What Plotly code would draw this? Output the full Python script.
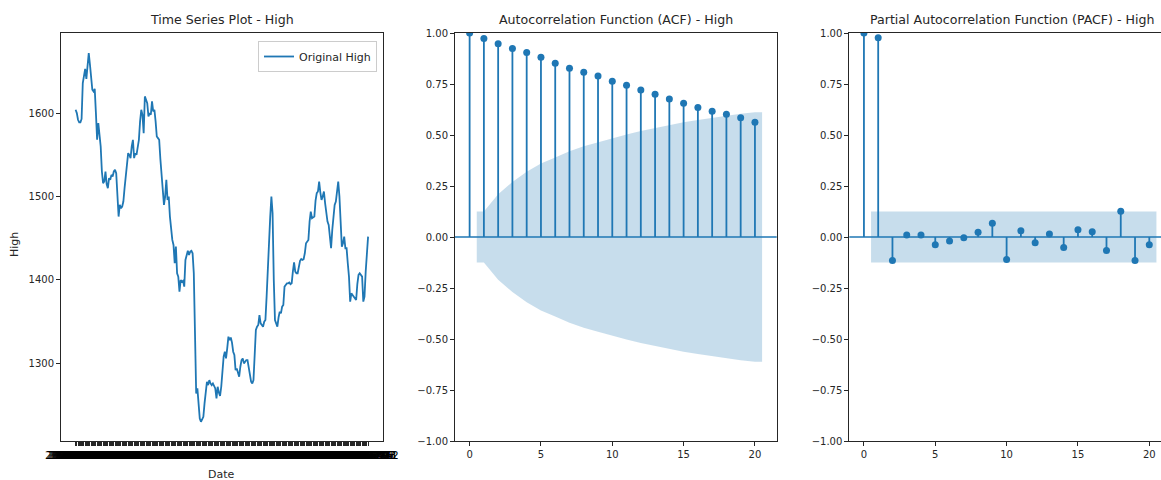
import pandas as pd
import plotly.graph_objects as go

# ---------------- data ----------------
high = [
    1604, 1600, 1592, 1589, 1589, 1593, 1636, 1645, 1653, 1641,
    1660, 1672, 1658, 1640, 1628, 1626, 1629, 1600, 1568, 1588,
    1575, 1560, 1530, 1516, 1518, 1530, 1515, 1510, 1522, 1520,
    1526, 1524, 1530, 1532, 1528, 1500, 1476, 1490, 1486, 1488,
    1494, 1510, 1525, 1542, 1552, 1550, 1546, 1560, 1568, 1546,
    1552, 1550, 1560, 1568, 1590, 1604, 1598, 1576, 1620, 1616,
    1612, 1596, 1600, 1598, 1614, 1602, 1604, 1590, 1572, 1570,
    1568, 1545, 1525, 1505, 1490, 1500, 1520, 1496, 1500, 1476,
    1460, 1448, 1442, 1420, 1440, 1408, 1404, 1386, 1400, 1398,
    1399, 1392, 1424, 1432, 1435, 1430, 1434, 1435, 1432, 1408,
    1330, 1264, 1270, 1244, 1234, 1230, 1233, 1236, 1252, 1265,
    1278, 1274, 1280, 1276, 1274, 1276, 1273, 1270, 1258, 1272,
    1265, 1261, 1272, 1290, 1308, 1314, 1306, 1318, 1332, 1328,
    1331, 1325, 1314, 1310, 1292, 1294, 1290, 1284, 1296, 1304,
    1306, 1300, 1302, 1304, 1304, 1295, 1284, 1278, 1276, 1280,
    1310, 1340, 1344, 1346, 1358, 1348, 1346, 1344, 1350, 1352,
    1380, 1420, 1448, 1475, 1500, 1480, 1400, 1352, 1348, 1344,
    1355, 1362, 1360, 1368, 1370, 1392, 1394, 1396, 1396, 1397,
    1395, 1396, 1410, 1421, 1410, 1408, 1408, 1418, 1423, 1425,
    1424, 1425, 1432, 1444, 1446, 1448, 1470, 1482, 1474, 1475,
    1476, 1495, 1504, 1506, 1518, 1505, 1496, 1500, 1506, 1492,
    1480, 1470, 1466, 1450, 1438, 1460, 1480, 1490, 1494, 1506,
    1518, 1500, 1460, 1440, 1444, 1452, 1438, 1438, 1420, 1404,
    1374, 1384, 1382, 1380, 1378, 1376, 1395, 1406, 1408, 1406,
    1404, 1374, 1380, 1410, 1440, 1452,
]
dates = pd.bdate_range("2023-01-03", periods=len(high)).strftime("%Y-%m-%d").tolist()

lags = list(range(21))
acf_vals = [1.000, 0.973, 0.947, 0.924, 0.905, 0.881, 0.852, 0.827, 0.808, 0.789,
            0.763, 0.744, 0.721, 0.700, 0.677, 0.656, 0.635, 0.616, 0.602, 0.584, 0.563]
acf_band_x = [0.5, 1, 2, 3, 4, 5, 6, 7, 8, 9, 10, 11, 12, 13, 14, 15, 16, 17, 18, 19, 20, 20.5]
acf_band = [0.125, 0.125, 0.21, 0.27, 0.32, 0.36, 0.39, 0.42, 0.445, 0.465, 0.485,
            0.503, 0.52, 0.535, 0.549, 0.562, 0.574, 0.585, 0.595, 0.604, 0.612, 0.612]

pacf_vals = [1.000, 0.977, -0.115, 0.010, 0.010, -0.038, -0.020, -0.004, 0.023, 0.067,
             -0.110, 0.031, -0.028, 0.015, -0.051, 0.036, 0.026, -0.066, 0.126, -0.115, -0.038]
pacf_band_x = [0.5, 20.5]
pacf_band = [0.125, 0.125]

# ---------------- style ----------------
W, H = 1161, 480
BLUE = "#1f77b4"
BAND = "rgba(31,119,180,0.25)"
AX = "#262626"
FONT = "DejaVu Sans"
TITLE_SIZE = 12.6

def px(x):
    return x / W

def py(y):
    return 1 - y / H

ydom = [py(441), py(33)]
dom1 = [px(61), px(382.7)]
dom2 = [px(455), px(776.7)]
dom3 = [px(849.3), 1.0]

fig = go.Figure()

# time series
fig.add_trace(go.Scatter(x=dates, y=high, mode="lines", name="Original High",
                         line=dict(color=BLUE, width=1.8), xaxis="x", yaxis="y",
                         showlegend=True))

def stems(xs, ys):
    sx, sy = [], []
    for a, b in zip(xs, ys):
        sx += [a, a, None]
        sy += [0, b, None]
    return sx, sy

def add_corr(vals, bx, bvals, xa, ya):
    poly_x = list(bx) + list(reversed(bx))
    poly_y = list(bvals) + [-v for v in reversed(bvals)]
    fig.add_trace(go.Scatter(x=poly_x, y=poly_y, fill="toself", fillcolor=BAND,
                             line=dict(width=0), mode="lines", hoverinfo="skip",
                             showlegend=False, xaxis=xa, yaxis=ya))
    sx, sy = stems(lags, vals)
    fig.add_trace(go.Scatter(x=sx, y=sy, mode="lines", line=dict(color=BLUE, width=1.8),
                             showlegend=False, xaxis=xa, yaxis=ya))
    fig.add_trace(go.Scatter(x=lags, y=vals, mode="markers",
                             marker=dict(color=BLUE, size=7),
                             showlegend=False, xaxis=xa, yaxis=ya))

add_corr(acf_vals, acf_band_x, acf_band, "x2", "y2")
add_corr(pacf_vals, pacf_band_x, pacf_band, "x3", "y3")

axis_common = dict(showline=True, linecolor=AX, linewidth=1, ticks="outside",
                   ticklen=4, tickcolor=AX, tickwidth=1, showgrid=False, zeroline=False,
                   automargin=False,
                   tickfont=dict(family=FONT, size=10, color=AX))

corr_y = dict(range=[-1, 1], tickvals=[-1, -0.75, -0.5, -0.25, 0, 0.25, 0.5, 0.75, 1],
              tickformat=".2f", domain=ydom, mirror=True, **axis_common)
corr_x = dict(tickvals=[0, 5, 10, 15, 20], **axis_common)

fig.update_layout(
    width=W, height=H, autosize=False,
    margin=dict(l=0, r=0, t=0, b=0, pad=0),
    paper_bgcolor="white", plot_bgcolor="white",
    font=dict(family=FONT, color=AX),
    xaxis=dict(domain=dom1, anchor="y", type="category", range=[-12.25, 257.25],
               tickmode="array", tickvals=dates, ticktext=dates, tickangle=0,
               mirror=True, **{**axis_common, "tickfont": dict(family=FONT, size=10.5, color="black")}),
    yaxis=dict(domain=ydom, anchor="x", range=[1207, 1696], tickvals=[1300, 1400, 1500, 1600],
               mirror=True, **axis_common),
    xaxis2=dict(domain=dom2, anchor="y2", range=[-1.025, 21.525], mirror=True, **corr_x),
    yaxis2=dict(anchor="x2", **corr_y),
    xaxis3=dict(domain=dom3, anchor="y3", range=[-1.025, 20.82], mirror=True, **corr_x),
    yaxis3=dict(anchor="x3", **{**corr_y, "mirror": False}),
    legend=dict(x=px(377), xanchor="right", y=py(41), yanchor="top",
                bordercolor="#cccccc", borderwidth=1, bgcolor="white",
                font=dict(family=FONT, size=11, color=AX)),
    shapes=[
        dict(type="line", xref="x2 domain", yref="y2", x0=0, x1=1, y0=0, y1=0,
             line=dict(color=BLUE, width=1.6)),
        dict(type="line", xref="x3 domain", yref="y3", x0=0, x1=1, y0=0, y1=0,
             line=dict(color=BLUE, width=1.6)),
    ],
    annotations=[
        dict(text="Time Series Plot - High", x=px(221.9), y=py(19.5), xref="paper", yref="paper",
             showarrow=False, xanchor="center", yanchor="middle",
             font=dict(size=TITLE_SIZE, family=FONT, color=AX)),
        dict(text="Autocorrelation Function (ACF) - High", x=px(615.8), y=py(19.5), xref="paper",
             yref="paper", showarrow=False, xanchor="center", yanchor="middle",
             font=dict(size=TITLE_SIZE, family=FONT, color=AX)),
        dict(text="Partial Autocorrelation Function (PACF) - High", x=px(1157), y=py(19.5),
             xref="paper", yref="paper", showarrow=False, xanchor="right", yanchor="middle",
             font=dict(size=TITLE_SIZE, family=FONT, color=AX)),
        dict(text="Date", x=px(221.9), y=py(474), xref="paper", yref="paper", showarrow=False,
             xanchor="center", yanchor="middle", font=dict(size=11, family=FONT, color=AX)),
        dict(text="High", x=px(15), y=py(245), xref="paper", yref="paper", showarrow=False,
             textangle=-90, xanchor="center", yanchor="middle",
             font=dict(size=11, family=FONT, color=AX)),
    ],
)

fig.write_html("out.html")
